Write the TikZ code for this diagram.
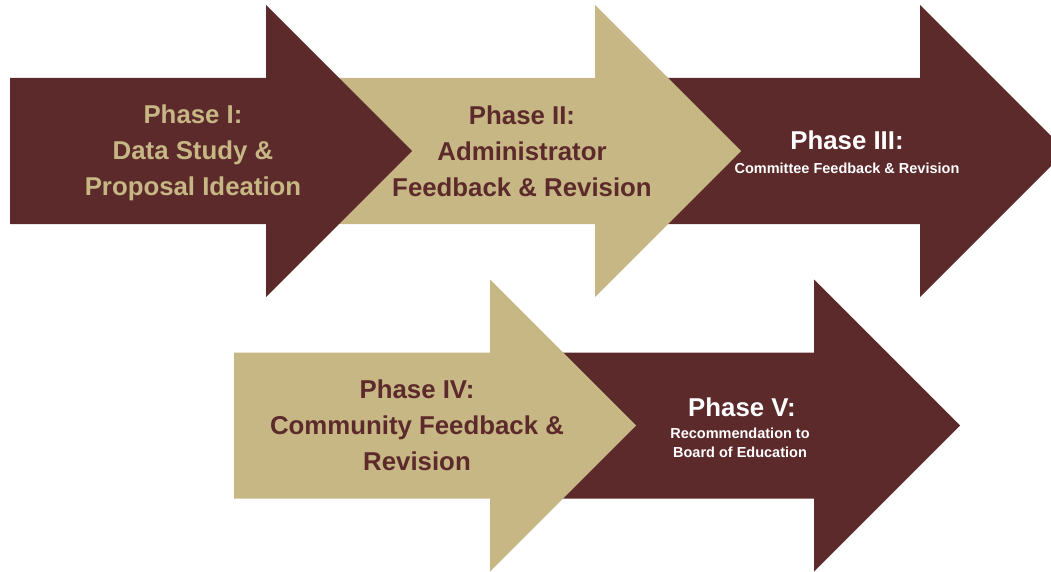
\documentclass[tikz,border=0pt]{standalone}
\usepackage{fontspec}
\setmainfont{Liberation Sans}
\usepackage{tikz}

\definecolor{garnet}{RGB}{93,42,44}
\definecolor{gold}{RGB}{198,183,132}

% block arrow: left end, middle height, colour
\newcommand{\phasearrow}[3]{%
  \fill[#3] (#1,#2-73) -- ++(256,0) -- ++(0,-73) -- ++(146,146) -- ++(-146,146) -- ++(0,-73) -- ++(-256,0) -- cycle;}

\begin{document}
\begin{tikzpicture}[x=1pt,y=-1pt,
    title/.style={font=\bfseries\fontsize{25.8}{36}\selectfont, align=center, inner sep=0pt},
    small/.style={font=\bfseries\fontsize{14.5}{19}\selectfont, align=center, inner sep=0pt}]
	\useasboundingbox (0,0) rectangle (1051,572);
	\clip (0,0) rectangle (1051,572);

	% top row, right to left so every head lies on the next body
	\phasearrow{664}{151}{garnet}
	\phasearrow{339}{151}{gold}
	\phasearrow{10}{151}{garnet}
	% bottom row
	\phasearrow{558}{425.5}{garnet}
	\phasearrow{234}{425.5}{gold}

	\node[title, text=gold] (one) at (193,153) {Phase I:\\Data Study \&\\Proposal Ideation};
	\node[title, text=garnet] (two) at (522,151) {Phase II:\\Administrator\\Feedback \& Revision};
	\node[title, text=white, anchor=base] (three) at (847,150) {Phase III:};
	\node[small, text=white, anchor=base] (threesub) at (847,174) {Committee Feedback \& Revision};
	\node[title, text=garnet] (four) at (417,425) {Phase IV:\\Community Feedback \&\\Revision};
	\node[title, text=white, anchor=base] (five) at (742,416) {Phase V:};
	\node[small, text=white] (fivesub) at (740,443) {Recommendation to\\Board of Education};
\end{tikzpicture}
\end{document}
